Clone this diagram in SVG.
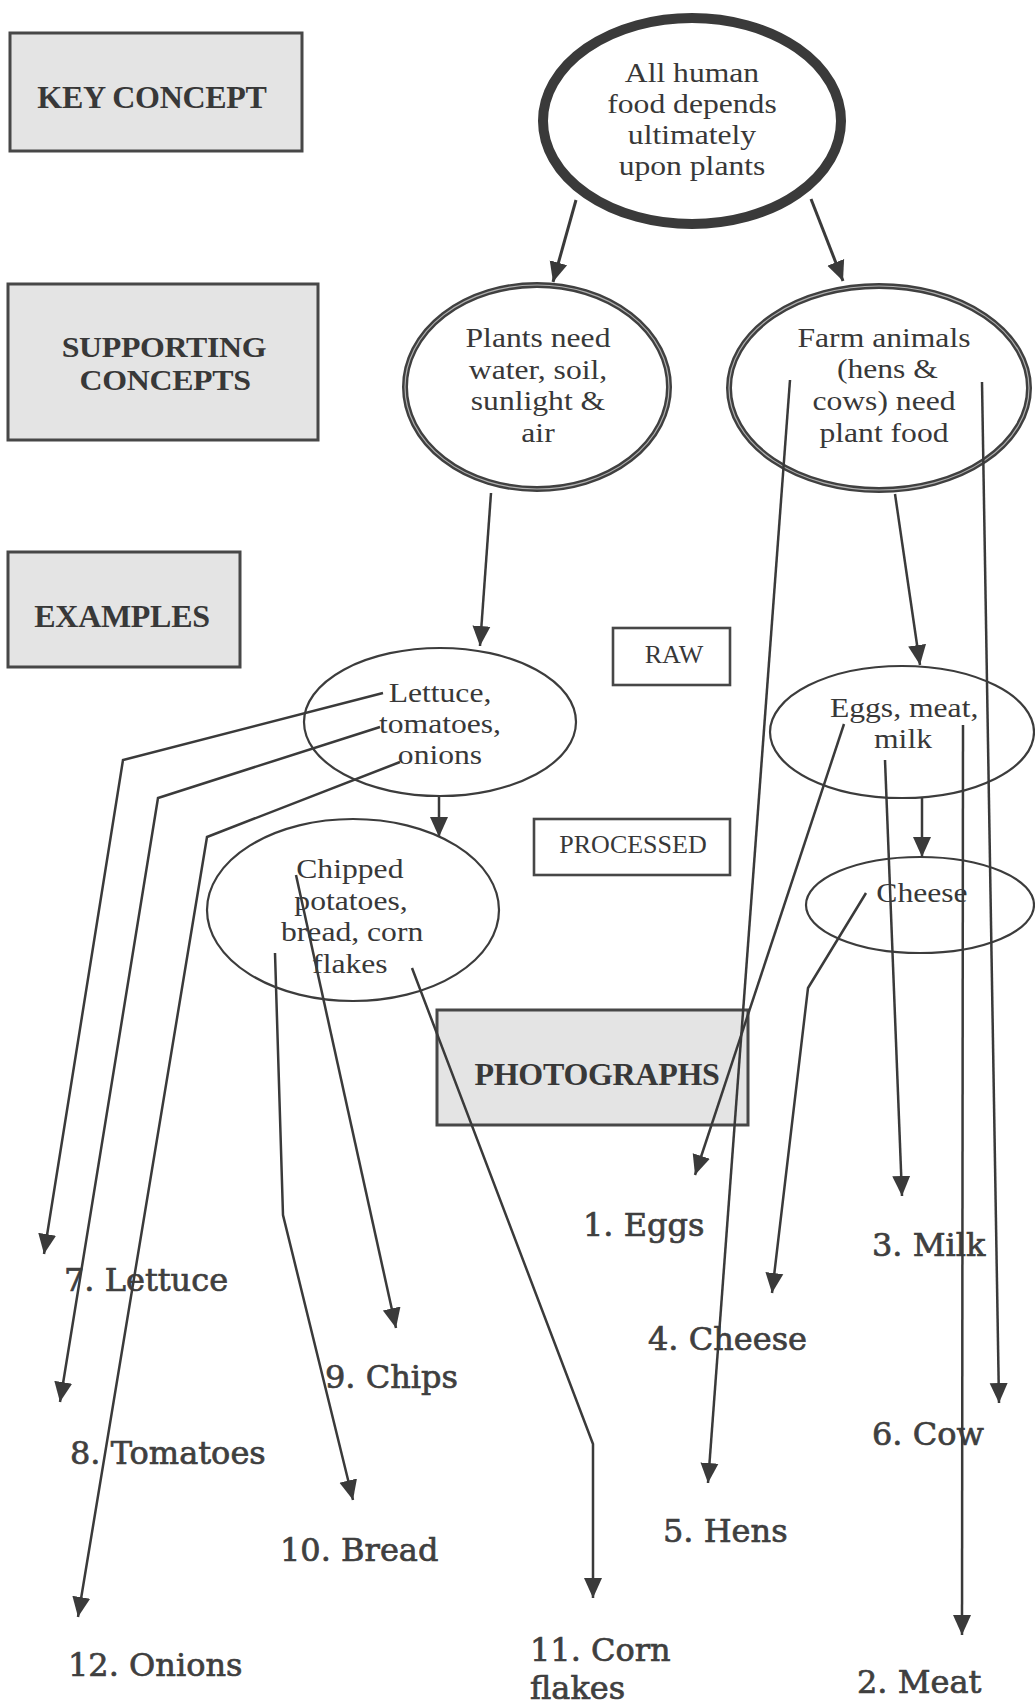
<svg xmlns="http://www.w3.org/2000/svg" width="1035" height="1705" viewBox="0 0 1035 1705">
<style>
.reg{font-family:"Liberation Serif","Times New Roman",serif;font-size:28px;fill:#383838;text-anchor:middle}
.sm{font-family:"Liberation Serif","Times New Roman",serif;font-size:26px;fill:#383838;text-anchor:middle}
.bold{font-family:"Liberation Serif","Times New Roman",serif;font-weight:bold;font-size:32px;fill:#383838;text-anchor:middle;letter-spacing:-0.3px}
.lab{font-family:"DejaVu Serif","Bookman Old Style",serif;font-size:32px;fill:#3f3f3f;stroke:#3f3f3f;stroke-width:0.7}
.gbox{fill:#e4e4e4;stroke:#474747;stroke-width:3}
.wbox{fill:none;stroke:#474747;stroke-width:2.6}
.thin{fill:none;stroke:#3c3c3c;stroke-width:2.2}
.dbl{fill:none;stroke:#404040;stroke-width:6}
.dblin{fill:none;stroke:#b0b0b0;stroke-width:1.2}
.con line,.con polyline{fill:none;stroke:#3a3a3a;stroke-width:2.5;marker-end:url(#ah)}
</style>
<defs>
<marker id="ah" markerUnits="userSpaceOnUse" markerWidth="22" markerHeight="20" refX="20" refY="9" orient="auto" viewBox="0 0 22 18">
<path d="M0,0 L20,9 L0,18 z" fill="#3a3a3a"/>
</marker>
</defs>
<rect width="1035" height="1705" fill="#ffffff"/>

<g id="key-concept">
<rect class="gbox" x="10" y="33" width="292" height="118" fill="#ebebeb"/>
<text class="bold" x="152" y="108">KEY CONCEPT</text>
</g>
<g id="supporting-concepts">
<rect class="gbox" x="8" y="284" width="310" height="156"/>
<g transform="matrix(1.1,0,0,1,-16.4,0)">
<text class="bold" x="164" y="357" style="font-size:29px">SUPPORTING</text>
<text class="bold" x="165" y="390" style="font-size:29px">CONCEPTS</text>
</g>
</g>
<g id="examples">
<rect class="gbox" x="8" y="552" width="232" height="115"/>
<text class="bold" x="122" y="627">EXAMPLES</text>
</g>
<g id="photographs">
<rect class="gbox" x="437" y="1010" width="311" height="115"/>
<text class="bold" x="597" y="1085">PHOTOGRAPHS</text>
</g>

<g id="all-human-food">
<ellipse cx="692" cy="121" rx="149" ry="103" fill="none" stroke="#3a3a3a" stroke-width="10"/>
<g transform="matrix(1.13,0,0,1,-89.96,0)">
<text class="reg" x="692" y="82">All human</text>
<text class="reg" x="692" y="113">food depends</text>
<text class="reg" x="692" y="144">ultimately</text>
<text class="reg" x="692" y="175">upon plants</text>
</g>
</g>
<g id="plants-need">
<ellipse class="dbl" cx="537" cy="387" rx="132" ry="102"/>
<ellipse class="dblin" cx="537" cy="387" rx="132" ry="102"/>
<g transform="matrix(1.13,0,0,1,-69.94,0)">
<text class="reg" x="538" y="347">Plants need</text>
<text class="reg" x="538" y="379">water, soil,</text>
<text class="reg" x="538" y="410">sunlight &amp;</text>
<text class="reg" x="538" y="442">air</text>
</g>
</g>
<g id="farm-animals">
<ellipse class="dbl" cx="879" cy="388" rx="150" ry="102" stroke-width="7"/>
<ellipse class="dblin" cx="879" cy="388" rx="150" ry="102"/>
<g transform="matrix(1.13,0,0,1,-114.92,0)">
<text class="reg" x="884" y="347">Farm animals</text>
<text class="reg" x="887" y="378">(hens &amp;</text>
<text class="reg" x="884" y="410">cows) need</text>
<text class="reg" x="884" y="442">plant food</text>
</g>
</g>
<g id="raw">
<rect class="wbox" x="613" y="628" width="117" height="57"/>
<text class="sm" x="674" y="663">RAW</text>
</g>
<g id="processed">
<rect class="wbox" x="534" y="819" width="196" height="56"/>
<text class="sm" x="633" y="853">PROCESSED</text>
</g>
<g id="lettuce-tomatoes-onions">
<ellipse class="thin" cx="440" cy="722" rx="136" ry="74"/>
<g transform="matrix(1.13,0,0,1,-57.2,0)">
<text class="reg" x="440" y="702">Lettuce,</text>
<text class="reg" x="440" y="733">tomatoes,</text>
<text class="reg" x="440" y="764">onions</text>
</g>
</g>
<g id="chipped-potatoes">
<ellipse class="thin" cx="353" cy="910" rx="146" ry="91"/>
<g transform="matrix(1.13,0,0,1,-45.63,0)">
<text class="reg" x="350" y="878">Chipped</text>
<text class="reg" x="351" y="910">potatoes,</text>
<text class="reg" x="352" y="941">bread, corn</text>
<text class="reg" x="350" y="973">flakes</text>
</g>
</g>
<g id="eggs-meat-milk">
<ellipse class="thin" cx="902" cy="732" rx="132" ry="66"/>
<g transform="matrix(1.13,0,0,1,-117.39,0)">
<text class="reg" x="904" y="717">Eggs, meat,</text>
<text class="reg" x="903" y="748">milk</text>
</g>
</g>
<g id="cheese">
<ellipse class="thin" cx="920" cy="905" rx="114" ry="48"/>
<g transform="matrix(1.13,0,0,1,-119.86,0)">
<text class="reg" x="922" y="902">Cheese</text>
</g>
</g>

<g id="photo-labels">
<text class="lab" x="583" y="1236">1. Eggs</text>
<text class="lab" x="857" y="1693">2. Meat</text>
<text class="lab" x="872" y="1256">3. Milk</text>
<text class="lab" x="648" y="1350">4. Cheese</text>
<text class="lab" x="663" y="1542">5. Hens</text>
<text class="lab" x="872" y="1445">6. Cow</text>
<text class="lab" x="64" y="1291">7. Lettuce</text>
<text class="lab" x="70" y="1464">8. Tomatoes</text>
<text class="lab" x="325" y="1388">9. Chips</text>
<text class="lab" x="280" y="1561">10. Bread</text>
<text class="lab" x="530" y="1661">11. Corn</text>
<text class="lab" x="530" y="1699">flakes</text>
<text class="lab" x="68" y="1676">12. Onions</text>
</g>

<g id="connectors" class="con">
<line x1="576" y1="200" x2="553" y2="282" style="stroke-width:3"/>
<line x1="811" y1="199" x2="843" y2="281" style="stroke-width:3"/>
<line x1="491" y1="493" x2="480" y2="646"/>
<line x1="895" y1="494" x2="920" y2="665"/>
<line x1="439" y1="797" x2="439" y2="837"/>
<line x1="922" y1="798" x2="922" y2="857"/>
<polyline points="383,693 123,760 44,1254"/>
<polyline points="380,727 158,798 60,1402"/>
<polyline points="400,762 207,837 78,1617"/>
<line x1="296" y1="875" x2="396" y2="1328"/>
<polyline points="275,953 283,1215 353,1500"/>
<polyline points="412,968 593,1444 593,1598"/>
<line x1="844" y1="724" x2="695" y2="1175"/>
<line x1="885" y1="760" x2="902" y2="1196"/>
<line x1="963" y1="725" x2="962" y2="1635"/>
<polyline points="866,893 808,988 772,1293"/>
<line x1="790" y1="380" x2="708" y2="1483"/>
<line x1="982" y1="382" x2="999" y2="1403"/>
</g>
</svg>
